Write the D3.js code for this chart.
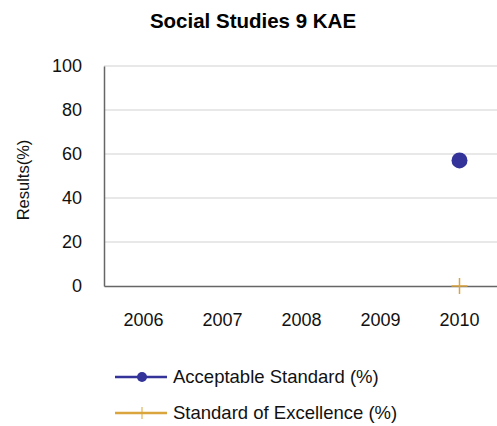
<!DOCTYPE html>
<html>
<head>
<meta charset="utf-8">
<script src="https://cdn.jsdelivr.net/npm/d3@7"></script>
<style>
  html, body { margin: 0; padding: 0; background: #fff; }
  svg { display: block; font-family: "Liberation Sans", Arial, sans-serif; }
</style>
</head>
<body>
<svg id="chart" width="497" height="426"></svg>
<script>
// Years shown on the category axis
const years = ["2006", "2007", "2008", "2009", "2010"];
// Results per year; null where no result was reported
const acceptable = [null, null, null, null, 57.1];
const excellence = [null, null, null, null, 0];
const yTicks = [0, 20, 40, 60, 80, 100];
const seriesNames = ["Acceptable Standard (%)", "Standard of Excellence (%)"];
const seriesColors = ["#333399", "#DBA53E"];

const svg = d3.select("#chart");
const plotLeft = 104, plotRight = 499, plotTop = 66, plotBottom = 286;

const x = d3.scaleBand().domain(years).range([plotLeft, plotRight]);
const y = d3.scaleLinear().domain([0, 100]).range([plotBottom, plotTop]);
const xc = yr => x(yr) + x.bandwidth() / 2;

// Title
svg.append("text")
  .attr("x", 253).attr("y", 28)
  .attr("text-anchor", "middle")
  .attr("font-size", 20.5).attr("font-weight", "bold")
  .text("Social Studies 9 KAE");

// Horizontal gridlines
svg.append("g").selectAll("line")
  .data(yTicks.filter(d => d > 0))
  .join("line")
  .attr("x1", plotLeft).attr("x2", 497)
  .attr("y1", d => y(d)).attr("y2", d => y(d))
  .attr("stroke", "#e0e0e0").attr("stroke-width", 1.5);

// Y axis
const yAxis = svg.append("g")
  .attr("transform", `translate(${plotLeft},0)`)
  .call(d3.axisLeft(y).tickValues(yTicks).tickSize(0).tickPadding(22));
yAxis.select(".domain").attr("stroke", "#666").attr("stroke-width", 1.5);
yAxis.selectAll("text").attr("font-size", 18).attr("fill", "#111")
  .attr("font-family", "Liberation Sans, Arial, sans-serif");

// X axis
const xAxis = svg.append("g")
  .attr("transform", `translate(0,${plotBottom})`)
  .call(d3.axisBottom(x).tickSize(0).tickPadding(27));
xAxis.select(".domain").attr("stroke", "#666").attr("stroke-width", 1.5);
xAxis.selectAll("text").attr("font-size", 18).attr("fill", "#111")
  .attr("font-family", "Liberation Sans, Arial, sans-serif");

// Y axis title
svg.append("text")
  .attr("transform", "translate(29,180) rotate(-90)")
  .attr("text-anchor", "middle")
  .attr("font-size", 16.5).attr("fill", "#111")
  .text("Results(%)");

// Acceptable Standard: filled circles
const accPoints = acceptable.map((v, i) => ({ v, year: years[i] })).filter(d => d.v !== null);
svg.append("g").selectAll("circle")
  .data(accPoints)
  .join("circle")
  .attr("cx", d => xc(d.year))
  .attr("cy", d => y(d.v))
  .attr("r", 8)
  .attr("fill", seriesColors[0]);

// Standard of Excellence: cross markers
const excPoints = excellence.map((v, i) => ({ v, year: years[i] })).filter(d => d.v !== null);
const cross = svg.append("g").selectAll("g")
  .data(excPoints)
  .join("g")
  .attr("transform", d => `translate(${xc(d.year)},${y(d.v)})`);
cross.append("line").attr("x1", -8).attr("x2", 8).attr("y1", 0).attr("y2", 0)
  .attr("stroke", seriesColors[1]).attr("stroke-width", 1.5);
cross.append("line").attr("x1", 0).attr("x2", 0).attr("y1", -8).attr("y2", 8)
  .attr("stroke", seriesColors[1]).attr("stroke-width", 1.5);

// Legend
const legend = svg.append("g").selectAll("g")
  .data(seriesNames)
  .join("g")
  .attr("transform", (d, i) => `translate(115,${377 + i * 36})`);
legend.append("line")
  .attr("x1", 0).attr("x2", 52).attr("y1", 0).attr("y2", 0)
  .attr("stroke", (d, i) => seriesColors[i]).attr("stroke-width", 2.5);
legend.filter((d, i) => i === 0).append("circle")
  .attr("cx", 27).attr("cy", 0).attr("r", 5).attr("fill", seriesColors[0]);
legend.filter((d, i) => i === 1).append("line")
  .attr("x1", 27).attr("x2", 27).attr("y1", -6).attr("y2", 6)
  .attr("stroke", seriesColors[1]).attr("stroke-width", 1);
legend.append("text")
  .attr("x", 58).attr("y", 0).attr("dy", "0.35em")
  .attr("font-size", 18.5).attr("fill", "#111")
  .text(d => d);
</script>
</body>
</html>
